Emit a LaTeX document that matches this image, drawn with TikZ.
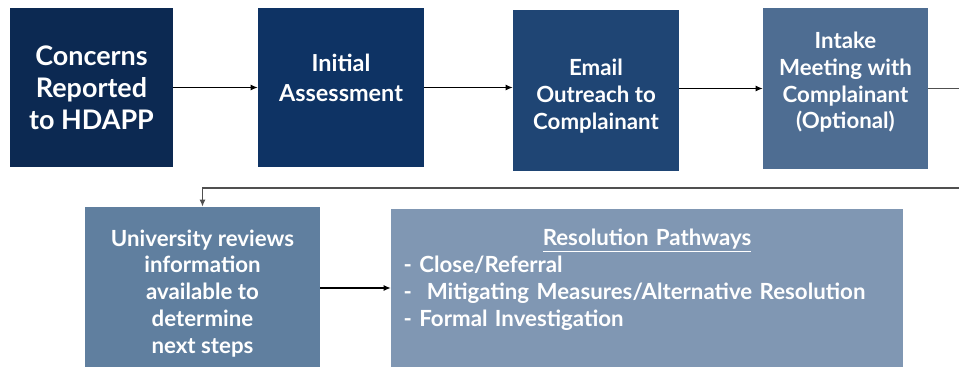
\documentclass[tikz,border=0pt]{standalone}
\usepackage{fontspec}
\setmainfont{Lato}
\usepackage{tikz}
\usetikzlibrary{arrows.meta, positioning, calc}
\definecolor{colNavy}{RGB}{12, 41, 82}
\definecolor{colDeep}{RGB}{14, 51, 100}
\definecolor{colMid}{RGB}{31, 69, 116}
\definecolor{colSlate}{RGB}{78, 109, 146}
\definecolor{colSteel}{RGB}{96, 127, 159}
\definecolor{colMist}{RGB}{128, 151, 179}
\definecolor{colLoop}{RGB}{80, 80, 80}

\tikzset{
    stepbox/.style={fill=#1, draw=none, text=white, align=center,
        font=\fontsize{19}{23}\selectfont\bfseries, inner sep=2pt},
    flow/.style={-{Latex[length=6pt,width=5pt]}, line width=1pt, black},
    loop/.style={-{Latex[length=6pt,width=5pt]}, line width=1.6pt, colLoop}
}

\begin{document}
\begin{tikzpicture}[x=0.03cm, y=-0.03cm]
    \useasboundingbox (0, 0) rectangle (959, 367);
    \clip (0, 0) rectangle (959, 367);

    % --- Top row ---
    \node[stepbox=colNavy, minimum width=4.89cm, minimum height=4.77cm,
        font=\fontsize{23}{27.5}\selectfont\bfseries] (report) at (91.5, 87.5)
        {Concerns\\Reported\\to HDAPP};
    \node[stepbox=colDeep, minimum width=4.98cm, minimum height=4.77cm,
        font=\fontsize{20}{25.5}\selectfont\bfseries, text depth=16pt] (assess) at (341, 87.5)
        {Initial\\Assessment};
    \node[stepbox=colMid, minimum width=4.98cm, minimum height=4.83cm, text height=70pt] (email) at (596, 90.5)
        {Email\\Outreach to\\Complainant};
    \node[stepbox=colSlate, minimum width=4.95cm, minimum height=4.83cm, text depth=14pt] (intake) at (845.5, 88.5)
        {Intake\\Meeting with\\Complainant\\(Optional)};

    % --- Bottom row ---
    \node[stepbox=colSteel, minimum width=7.05cm, minimum height=4.95cm, text height=113pt] (review) at (202.5, 289.5)
        {University reviews\\information\\available to\\determine\\next steps};
    \node[stepbox=colMist, minimum width=15.36cm, minimum height=4.89cm, text width=14.6cm,
        align=left, text depth=91pt] (paths) at (647, 290.5)
        {{\centering\underline{Resolution Pathways}\par}
         - Close/Referral\\
         -~ Mitigating Measures/Alternative Resolution\\
         - Formal Investigation};

    % --- Connectors ---
    \draw[flow] (report.east) -- (assess.west);
    \draw[flow] (assess.east) -- (assess.east -| email.west);
    \draw[flow] (intake.west -| email.east) -- (intake.west);
    \coordinate (turn) at (985, 188);
    \draw[loop] (intake.east) -| (turn) -| (review.north);
    \draw[flow] (review.east |- 0, 288) -- (paths.west |- 0, 288);
\end{tikzpicture}
\end{document}
